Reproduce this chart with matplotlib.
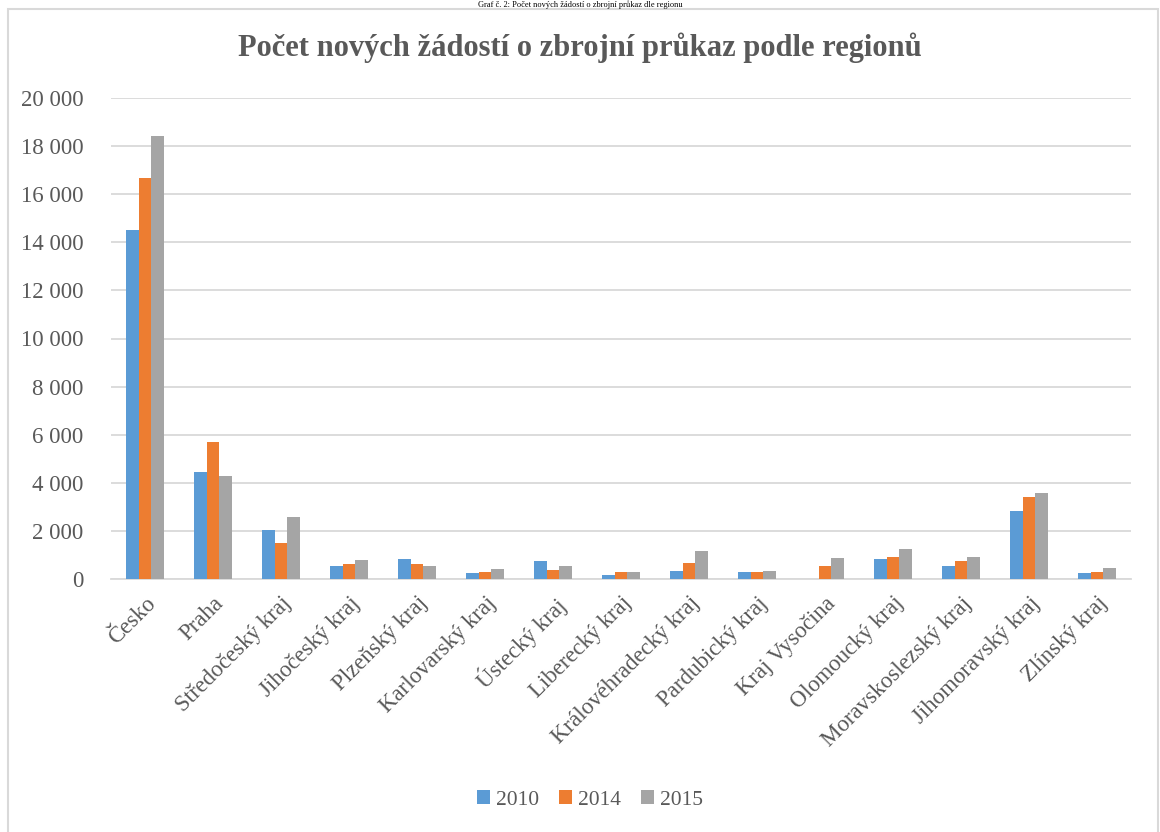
import numpy as np
import matplotlib
matplotlib.use("Agg")
import matplotlib.pyplot as plt
from matplotlib.patches import Rectangle

# Data
regions = ["Česko", "Praha", "Středočeský kraj", "Jihočeský kraj", "Plzeňský kraj",
           "Karlovarský kraj", "Ústecký kraj", "Liberecký kraj", "Královéhradecký kraj",
           "Pardubický kraj", "Kraj Vysočina", "Olomoucký kraj", "Moravskoslezský kraj",
           "Jihomoravský kraj", "Zlínský kraj"]
years = ["2010", "2014", "2015"]
v2010 = [14520, 4440, 2040, 550, 820, 240, 730, 180, 330, 280, 0, 820, 560, 2830, 260]
v2014 = [16660, 5690, 1510, 610, 610, 290, 390, 280, 650, 280, 560, 930, 730, 3410, 280]
v2015 = [18410, 4290, 2580, 780, 560, 400, 560, 280, 1150, 330, 860, 1250, 930, 3590, 440]
colors = ["#5B9BD5", "#ED7D31", "#A5A5A5"]
yticks = np.arange(0, 20001, 2000)

W, H = 1160, 832
plt.rcParams['font.family'] = ['Liberation Serif', 'DejaVu Serif']
fig = plt.figure(figsize=(W / 100, H / 100), dpi=100)
ax = fig.add_axes([111 / W, 1 - 579 / H, (1131 - 111) / W, (579 - 98) / H])

x = np.arange(len(regions))
bw = 0.19
for i, (vals, c, lab) in enumerate(zip([v2010, v2014, v2015], colors, years)):
    ax.bar(x + (i - 1) * bw, vals, width=bw, color=c, label=lab, zorder=3)

ax.set_xlim(-0.5, len(regions) - 0.5)
ax.set_ylim(0, 20000)
ax.set_yticks(yticks)
ax.set_yticklabels([f"{v:,}".replace(",", " ") for v in yticks], fontsize=16.5, color="#595959")
ax.grid(axis="y", color="#D9D9D9", lw=1.3, zorder=0)
for s in ["top", "right", "left"]:
    ax.spines[s].set_visible(False)
ax.spines["bottom"].set_color("#D9D9D9")
ax.spines["bottom"].set_linewidth(1.3)
ax.tick_params(axis="both", length=0)
ax.tick_params(axis="y", pad=20)

ax.set_xticks(x)
ax.set_xticklabels(regions, rotation=45, ha="right", va="top", rotation_mode="anchor",
                   fontsize=16.5, color="#595959")
ax.tick_params(axis="x", pad=10)

fig.text(0.5, 1 - 48 / H, "Počet nových žádostí o zbrojní průkaz podle regionů",
         ha="center", va="center", fontsize=22, fontweight="bold", color="#595959")

# caption above the chart frame
fig.text(0.5, 1 - 0.5 / H, "Graf č. 2: Počet nových žádostí o zbrojní průkaz dle regionu",
         ha="center", va="top", fontsize=6, color="black")

# chart frame
fig.patches.append(Rectangle((8 / W, -0.01), (1158 - 8) / W, 1.01 - 9 / H,
                             transform=fig.transFigure, fill=False,
                             edgecolor="#D9D9D9", lw=1.5))

ax.legend(loc="center", bbox_to_anchor=(590 / W, 1 - 800 / H), bbox_transform=fig.transFigure,
          ncol=3, frameon=False, fontsize=15.5, labelcolor="#595959",
          handlelength=0.6, handleheight=0.6, handletextpad=0.3, columnspacing=0.9)

fig.savefig("out.png", dpi=100)
